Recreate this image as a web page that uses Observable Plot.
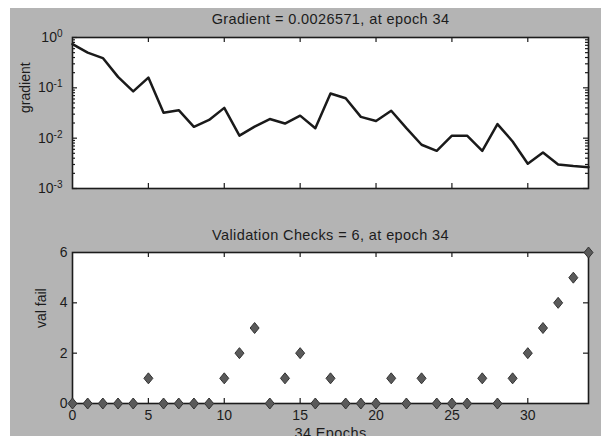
<!DOCTYPE html>
<html><head><meta charset="utf-8">
<script src="https://cdn.jsdelivr.net/npm/d3@7"></script>
<script src="https://cdn.jsdelivr.net/npm/@observablehq/plot@0.6"></script>
<style>
body{margin:0;background:#fff;}
#wrap{position:relative;width:601px;height:436px;background:#fff;overflow:hidden;}
#bg{position:absolute;left:10px;top:8px;right:0;bottom:0;background:#b4b4b4;}
#top,#bot{position:absolute;left:0;}
#top{top:0px}
#bot{top:200px}
</style></head><body>
<div id="wrap"><div id="bg"></div><div id="top"></div><div id="bot"></div></div>
<script>
const epochs = [0,1,2,3,4,5,6,7,8,9,10,11,12,13,14,15,16,17,18,19,20,21,22,23,24,25,26,27,28,29,30,31,32,33,34];
const gradient = [0.74,0.50,0.39,0.165,0.085,0.16,0.032,0.036,0.0168,0.023,0.040,0.0112,0.017,0.024,0.0195,0.028,0.0158,0.077,0.062,0.0265,0.022,0.035,0.0158,0.0074,0.0056,0.0112,0.0112,0.0056,0.019,0.0086,0.0031,0.0052,0.0030,0.0028,0.0026571];
const valFail = [0,0,0,0,0,1,0,0,0,0,1,2,3,0,1,2,0,1,0,0,0,1,0,1,0,0,0,1,0,1,2,3,4,5,6];
const xTicks = [0,5,10,15,20,25,30];
const gradTicks = [0.001,0.01,0.1,1];
const valTicks = [0,2,4,6];
const topTitle = "Gradient = 0.0026571, at epoch 34";
const botTitle = "Validation Checks = 6, at epoch 34";
const topYLabel = "gradient";
const botYLabel = "val fail";
const xLabel = "34 Epochs";

const gradData = epochs.map((e,i)=>({epoch:e, grad:gradient[i]}));
const valData = epochs.map((e,i)=>({epoch:e, val:valFail[i]}));
const minorTicks = [];
for (const d of [0.001,0.01,0.1]) for (let k=2;k<=9;k++) minorTicks.push(d*k);

const W = 601, ML = 72, MR = 13;
const FW = W - ML - MR;
const FH = 151;
const ink = "#1c1c1c";
const font = "'Liberation Sans', Arial, Helvetica, sans-serif";
const style = {background:"transparent", fontFamily:font, fontSize:"14px", color:ink, overflow:"visible"};

const mdiamond = {draw(ctx, size){ const r = Math.sqrt(size/Math.PI); const hh=r*1.1, hw=r*0.9; ctx.moveTo(0,-hh); ctx.lineTo(hw,0); ctx.lineTo(0,hh); ctx.lineTo(-hw,0); ctx.closePath(); }};

function inwardX(ticks){ return [
  Plot.ruleX(ticks, {x:d=>d, insetTop:FH-5, stroke:ink, strokeWidth:1.2}),
  Plot.ruleX(ticks, {x:d=>d, insetBottom:FH-5, stroke:ink, strokeWidth:1.2})
];}
function inwardY(ticks, len){ return [
  Plot.ruleY(ticks, {y:d=>d, insetRight:FW-len, stroke:ink, strokeWidth:1.2}),
  Plot.ruleY(ticks, {y:d=>d, insetLeft:FW-len, stroke:ink, strokeWidth:1.2})
];}

const titleStyle = {fill:ink, fontSize:14.5, lineAnchor:"middle"};

const topPlot = Plot.plot({
  width:W, height:200, marginLeft:ML, marginRight:MR, marginTop:37, marginBottom:12,
  style,
  x:{domain:[0,34], axis:null},
  y:{type:"log", domain:[0.001,1], axis:null},
  marks:[
    Plot.frame({fill:"white", stroke:null}),
    ...inwardX(xTicks.slice(1)),
    ...inwardY(gradTicks, 5),
    ...inwardY(minorTicks, 3),
    Plot.axisY(gradTicks, {anchor:"left", tickSize:0, tickPadding:10, label:null, tickFormat:d=>String(Math.round(Math.log10(d))), fill:ink, fontSize:14}),
    Plot.line(gradData, {x:"epoch", y:"grad", stroke:"#1a1a1a", strokeWidth:2.5, strokeLinejoin:"round"}),
    Plot.frame({stroke:ink, strokeWidth:1.6}),
    Plot.text([topTitle], {frameAnchor:"top", dy:-18, ...titleStyle}),
    Plot.text([topYLabel], {frameAnchor:"left", rotate:-90, dx:-47, fill:ink, fontSize:14})
  ]
});
// superscript exponents
topPlot.querySelectorAll('g[aria-label="y-axis tick label"] text').forEach(t=>{
  const exp = t.textContent;
  t.textContent = "";
  const base = document.createElementNS("http://www.w3.org/2000/svg","tspan");
  base.textContent = "10";
  const sup = document.createElementNS("http://www.w3.org/2000/svg","tspan");
  sup.textContent = exp;
  sup.setAttribute("dy","-0.5em");
  sup.setAttribute("font-size","10");
  t.appendChild(base); t.appendChild(sup);
});
document.getElementById("top").appendChild(topPlot);

const botPlot = Plot.plot({
  width:W, height:236, marginLeft:ML, marginRight:MR, marginTop:52, marginBottom:33,
  style,
  x:{domain:[0,34], axis:null},
  y:{domain:[0,6], axis:null},
  marks:[
    Plot.frame({fill:"white", stroke:null}),
    ...inwardX(xTicks.slice(1)),
    ...inwardY(valTicks.slice(1,3), 5),
    Plot.axisY(valTicks, {anchor:"left", tickSize:0, tickPadding:5, label:null, fill:ink, fontSize:14}),
    Plot.axisX(xTicks, {anchor:"bottom", tickSize:0, tickPadding:7, label:null, fill:ink, fontSize:14}),
    Plot.frame({stroke:ink, strokeWidth:1.6}),
    Plot.dot(valData, {x:"epoch", y:"val", symbol:mdiamond, r:5, fill:"#5a5a5a", stroke:"#333", strokeWidth:1}),
    Plot.text([botTitle], {frameAnchor:"top", dy:-17, ...titleStyle}),
    Plot.text([botYLabel], {frameAnchor:"left", rotate:-90, dx:-31, fill:ink, fontSize:14}),
    Plot.text([xLabel], {frameAnchor:"bottom", dy:24, lineAnchor:"top", fill:ink, fontSize:14.5})
  ]
});
document.getElementById("bot").appendChild(botPlot);
// slight letter spacing on titles to match the wider reference type
for (const svg of [topPlot, botPlot]) {
  svg.querySelectorAll('g[aria-label="text"] text').forEach(t=>{
    if (t.textContent === topTitle || t.textContent === botTitle || t.textContent === xLabel) t.setAttribute("letter-spacing","0.4");
  });
}
</script>
</body></html>
